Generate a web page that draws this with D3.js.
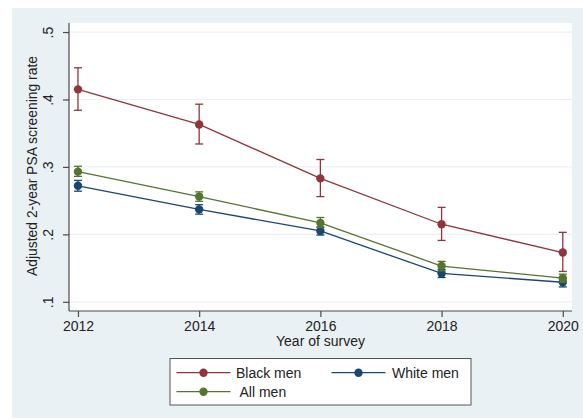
<!DOCTYPE html>
<html>
<head>
<meta charset="utf-8">
<script src="https://cdn.jsdelivr.net/npm/d3@7"></script>
<style>
html,body{margin:0;padding:0;background:#fff;}
svg{display:block;font-family:"Liberation Sans",Arial,Helvetica,sans-serif;}
</style>
</head>
<body>
<svg id="chart" width="583" height="420"></svg>
<script>
const years = [2012, 2014, 2016, 2018, 2020];
const yTicks = [0.1, 0.2, 0.3, 0.4, 0.5];
const yTickLabels = [".1", ".2", ".3", ".4", ".5"];
const seriesNames = ["Black men", "White men", "All men"];
const blackMean = [0.415, 0.363, 0.283, 0.215, 0.173];
const blackLo   = [0.384, 0.334, 0.256, 0.191, 0.145];
const blackHi   = [0.447, 0.393, 0.311, 0.240, 0.203];
const whiteMean = [0.272, 0.237, 0.205, 0.142, 0.129];
const whiteLo   = [0.264, 0.230, 0.199, 0.136, 0.122];
const whiteHi   = [0.280, 0.244, 0.211, 0.148, 0.135];
const allMean   = [0.293, 0.256, 0.217, 0.153, 0.135];
const allLo     = [0.286, 0.249, 0.210, 0.146, 0.129];
const allHi     = [0.301, 0.263, 0.225, 0.160, 0.141];
const colors = ["#90353B", "#1A476F", "#55752F"];

const series = [
  {name: seriesNames[0], mean: blackMean, lo: blackLo, hi: blackHi, color: colors[0]},
  {name: seriesNames[1], mean: whiteMean, lo: whiteLo, hi: whiteHi, color: colors[1]},
  {name: seriesNames[2], mean: allMean, lo: allLo, hi: allHi, color: colors[2]}
];

const svg = d3.select("#chart");
// graph region
svg.append("rect").attr("x", 12).attr("y", 8).attr("width", 571).attr("height", 410).attr("fill", "#EAF1F4");

const plot = {left: 69, right: 572, top: 23, bottom: 311};
svg.append("rect").attr("x", plot.left).attr("y", plot.top)
  .attr("width", plot.right - plot.left).attr("height", plot.bottom - plot.top).attr("fill", "#fff");

const x = d3.scaleLinear().domain([2011.852, 2020.152]).range([plot.left, plot.right]);
const y = d3.scaleLinear().domain([0.08635, 0.5134]).range([plot.bottom, plot.top]);

// gridlines
svg.append("g").selectAll("line").data(yTicks).join("line")
  .attr("x1", plot.left).attr("x2", plot.right)
  .attr("y1", d => y(d)).attr("y2", d => y(d))
  .attr("stroke", "#EAF1F4").attr("stroke-width", 1.2);

// axes
const axColor = "#4a4a4a";
const xAxis = d3.axisBottom(x).tickValues(years).tickFormat(d3.format("d")).tickSize(6).tickPadding(4);
const gx = svg.append("g").attr("transform", `translate(0,${plot.bottom})`).call(xAxis);
gx.select(".domain").attr("d", `M${plot.left},0H${plot.right}`).attr("stroke", axColor).attr("stroke-width", 1.2);
gx.selectAll(".tick line").attr("stroke", axColor).attr("stroke-width", 1.2);
gx.selectAll(".tick text").attr("font-size", 14).attr("fill", "#222").attr("font-family", "Liberation Sans, Arial, sans-serif");

const yAxis = d3.axisLeft(y).tickValues(yTicks).tickFormat((d, i) => yTickLabels[i]).tickSize(6).tickPadding(5);
const gy = svg.append("g").attr("transform", `translate(${plot.left},0)`).call(yAxis);
gy.select(".domain").attr("d", `M0,${plot.top}V${plot.bottom}`).attr("stroke", axColor).attr("stroke-width", 1.2);
gy.selectAll(".tick line").attr("stroke", axColor).attr("stroke-width", 1.2);
gy.selectAll(".tick text")
  .attr("font-size", 14).attr("fill", "#222").attr("font-family", "Liberation Sans, Arial, sans-serif")
  .attr("text-anchor", "middle").attr("dy", null).attr("x", null)
  .attr("transform", "translate(-16,0) rotate(-90)");

// axis titles
svg.append("text").attr("x", (plot.left + plot.right) / 2).attr("y", 346)
  .attr("text-anchor", "middle").attr("font-size", 14).attr("fill", "#222").text("Year of survey");
svg.append("text").attr("transform", `translate(37,${(plot.top + plot.bottom) / 2 - 1}) rotate(-90)`)
  .attr("text-anchor", "middle").attr("font-size", 13.9).attr("fill", "#222").text("Adjusted 2-year PSA screening rate");

// series
const line = d3.line().x((d, i) => x(years[i])).y(d => y(d));
series.forEach(s => {
  const g = svg.append("g");
  g.append("path").datum(s.mean).attr("d", line).attr("fill", "none")
    .attr("stroke", s.color).attr("stroke-width", 1.3);
  years.forEach((yr, i) => {
    const cx = x(yr);
    g.append("line").attr("x1", cx).attr("x2", cx).attr("y1", y(s.lo[i])).attr("y2", y(s.hi[i]))
      .attr("stroke", s.color).attr("stroke-width", 1.3);
    [s.lo[i], s.hi[i]].forEach(v => {
      g.append("line").attr("x1", cx - 4).attr("x2", cx + 4).attr("y1", y(v)).attr("y2", y(v))
        .attr("stroke", s.color).attr("stroke-width", 1.3);
    });
  });
  g.selectAll("circle").data(s.mean).join("circle")
    .attr("cx", (d, i) => x(years[i])).attr("cy", d => y(d)).attr("r", 4.2).attr("fill", s.color);
});

// legend
const lg = svg.append("g");
lg.append("rect").attr("x", 170).attr("y", 358.5).attr("width", 301).attr("height", 46.5)
  .attr("fill", "#fff").attr("stroke", "#555").attr("stroke-width", 1);
const legendPos = [
  {lx: 176.5, ty: 372.7, tx: 236},
  {lx: 331.5, ty: 372.7, tx: 392},
  {lx: 176.5, ty: 391.7, tx: 239.5}
];
series.forEach((s, i) => {
  const p = legendPos[i];
  lg.append("line").attr("x1", p.lx).attr("x2", p.lx + 54).attr("y1", p.ty).attr("y2", p.ty)
    .attr("stroke", s.color).attr("stroke-width", 1.3);
  lg.append("circle").attr("cx", p.lx + 27).attr("cy", p.ty).attr("r", 4.2).attr("fill", s.color);
  lg.append("text").attr("x", p.tx).attr("y", p.ty + 5).attr("font-size", 14).attr("fill", "#222").text(s.name);
});
</script>
</body>
</html>
